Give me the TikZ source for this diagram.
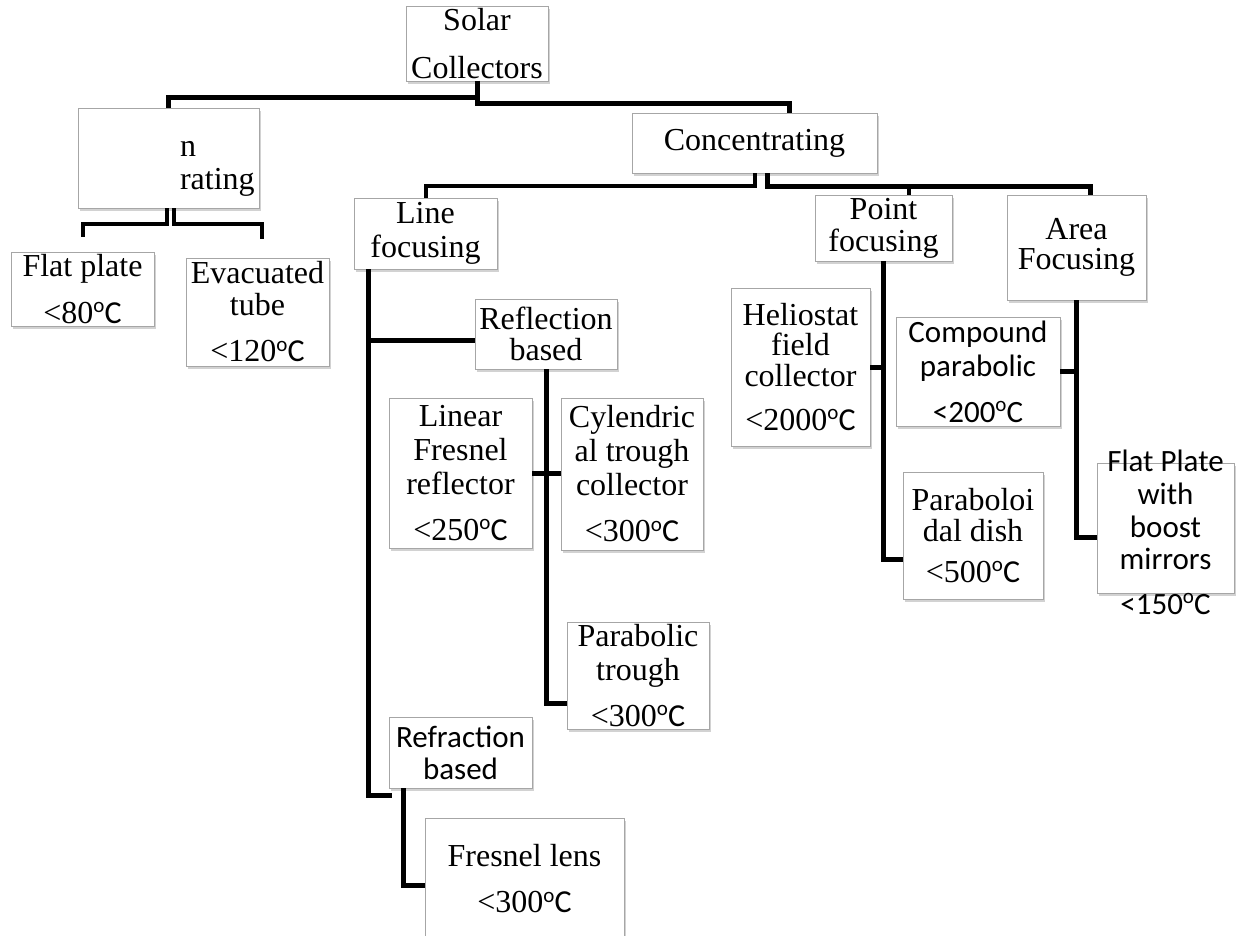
\documentclass[tikz,border=0pt]{standalone}
\usepackage{fontspec}
\setmainfont{Liberation Serif}
\newfontfamily\carl{Carlito}
\usetikzlibrary{shapes,shadows}
\newcommand{\degc}{{\carl\raisebox{0.33em}{\fontsize{21}{21}\selectfont o}C}}
\tikzstyle{block} = [draw=gray!70, fill=white, rectangle, inner sep=2pt, align=center,
font=\fontsize{32}{34}\selectfont,
drop shadow={shadow xshift=2pt, shadow yshift=-3pt, fill=gray!70, opacity=0.5}]
\tikzstyle{sansblock} = [block, font=\carl\fontsize{31}{34}\selectfont]
\tikzstyle{sanstext} = [inner sep=0pt, align=center, font=\carl\fontsize{31}{34}\selectfont]
\tikzstyle{link} = [line width=5pt]

\begin{document}
\begin{tikzpicture}[x=1pt, y=-1pt]
	\useasboundingbox (0,0) rectangle (1258,936);

	% top levels
	\node [block, minimum width=142pt, minimum height=71pt] (solar) at (477,43.5) {Solar\\[14pt]Collectors};
	\node [block, minimum width=181pt, minimum height=100pt, text width=173pt, align=left] (nonconc) at (168.5,158) {\hspace*{98pt}\rule{0pt}{36pt}n\\[-1pt]\hspace*{98pt}rating};
	\node [block, minimum width=245pt, minimum height=60pt] (conc) at (754.5,143) {Concentrating};

	\node [block, minimum width=143pt, minimum height=70pt] (flat) at (82.5,289) {Flat plate\\[13pt]<80\degc};
	\node [block, minimum width=143pt, minimum height=108pt] (evac) at (257.5,312) {Evacuated\\[-2pt]tube\\[12pt]<120\degc};

	\node [block, minimum width=143pt, minimum height=71pt] (line) at (425.5,233.5) {Line\\focusing};
	\node [block, minimum width=137pt, minimum height=66pt] (point) at (883.5,228) {Point\\[-2pt]focusing};
	\node [block, minimum width=139pt, minimum height=105pt] (area) at (1076.5,247.5) {Area\\[-4pt]Focusing};

	% line focusing
	\node [block, minimum width=142pt, minimum height=70pt] (refl) at (546,334) {Reflection\\[-3pt]based};
	\node [block, minimum width=143pt, minimum height=150pt] (linfres) at (460.5,473) {Linear\\Fresnel\\reflector\\[12pt]<250\degc};
	\node [block, minimum width=142pt, minimum height=152pt] (cyl) at (632,474) {Cylendric\\al trough\\collector\\[12pt]<300\degc};
	\node [block, minimum width=142pt, minimum height=107pt] (partr) at (638,675.5) {Parabolic\\trough\\[12pt]<300\degc};
	\node [sansblock, minimum width=143pt, minimum height=71pt] (refr) at (460.5,752.5) {Refraction\\[-2pt]based};
	\node [block, minimum width=199pt, minimum height=122pt] (fresl) at (524.5,879) {Fresnel lens\\[12pt]<300\degc};

	% point and area focusing
	\node [block, minimum width=139pt, minimum height=158pt] (helio) at (800.5,367) {Heliostat\\[-4pt]field\\[-3pt]collector\\[10pt]<2000\degc};
	\node [block, minimum width=140pt, minimum height=127pt] (dish) at (973,535.5) {Paraboloi\\[-3pt]dal dish\\[7pt]<500\degc};
	\node [sansblock, minimum width=164pt, minimum height=109pt] (compound) at (978,371.5) {Compound\\parabolic\\[12pt]<200\raisebox{0.33em}{\fontsize{21}{21}\selectfont o}C};
	\node [block, minimum width=137pt, minimum height=130pt] (flatboost) at (1165.5,528) {};
	\node [sanstext] (flatboost text) at (1165.5,532) {Flat Plate\\[-1pt]with\\[-1pt]boost\\[-2pt]mirrors\\[11pt]<150\raisebox{0.33em}{\fontsize{21}{21}\selectfont o}C};

	% connectors
	\draw [link] (solar.south) -- ++(0,17) -| (nonconc.north);
	\draw [link] (solar.south) -- ++(0,23) -| ([xshift=34.5pt]conc.north);

	\draw [line width=4pt] ([xshift=-1.5pt]nonconc.south) -- ++(0,16) -| ([yshift=15pt]flat.north);
	\draw [line width=4pt] ([xshift=5.5pt]nonconc.south) -- ++(0,16) -| ([xshift=4.5pt, yshift=19pt]evac.north);

	\draw [line width=4pt] ([xshift=0.5pt]conc.south) -- ++(0,13) -| (line.north);
	\draw [line width=4pt] ([xshift=12.5pt]conc.south) -- ++(0,13) -| ([xshift=25.5pt]point.north);
	\draw [link] ([xshift=12.5pt]conc.south) -- ++(0,13) -| ([xshift=13.5pt]area.north);

	\draw [link] ([xshift=15pt]line.south west) |- ([yshift=-6pt]refl.west);
	\draw [link] ([xshift=15pt]line.south west) |- ([xshift=3pt, yshift=-7pt]refr.south west);
	\draw [link] (refl.south) |- ([yshift=-27.5pt]partr.west);
	\draw [link, yshift=-10pt] (linfres.east) -- (linfres.east -| cyl.west);
	\draw [link] ([xshift=15pt]refr.south west) |- ([yshift=-6pt]fresl.west);

	\draw [link] (point.south) |- ([yshift=-23.5pt]dish.west);
	\draw [link, yshift=-9pt] (helio.east) -- (helio.east -| point.south);
	\draw [link] (area.south) |- ([yshift=-9pt]flatboost.west);
	\draw [link, yshift=-11.5pt] (compound.east) -- (compound.east -| area.south);

\end{tikzpicture}
\end{document}
